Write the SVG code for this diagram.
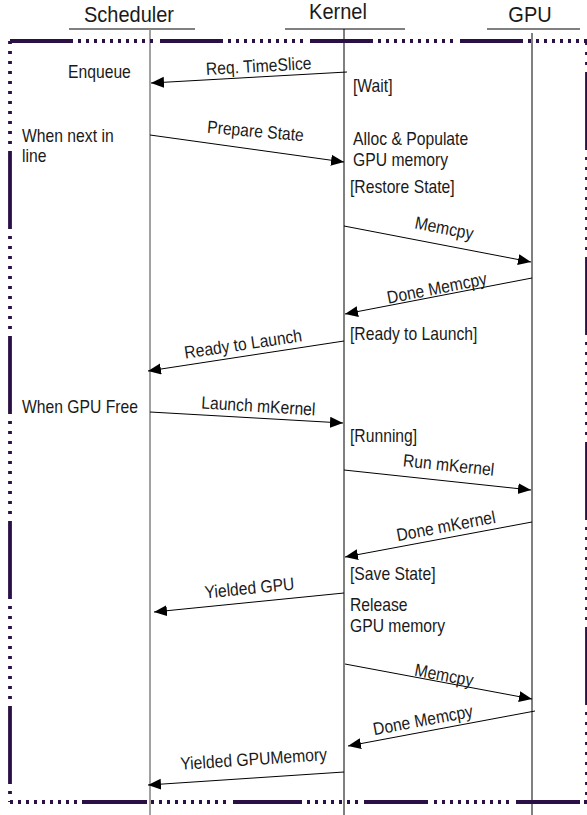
<svg xmlns="http://www.w3.org/2000/svg" width="587" height="815" viewBox="0 0 587 815">
  <style>
    .hdr { font-family: "Liberation Sans", Arial, sans-serif; font-size: 20px; fill: #1a1a1a; text-anchor: middle; }
    .txt { font-family: "Liberation Sans", Arial, sans-serif; font-size: 15.7px; fill: #1a1a1a; }
    .lbl { font-family: "Liberation Sans", Arial, sans-serif; font-size: 15.7px; fill: #1a1a1a; text-anchor: middle; }
    .uline { stroke: #808080; stroke-width: 2; fill: none; }
    .life { stroke: #000; stroke-width: 1; fill: none; }
    .msg { stroke: #000; stroke-width: 1; fill: none; marker-end: url(#head); }
    .frame { stroke: #2b1045; fill: none; stroke-width: 3.8; }
  </style>
  <defs>
    <marker id="head" markerUnits="userSpaceOnUse" markerWidth="14" markerHeight="12" refX="13" refY="5.5" orient="auto">
      <path d="M0,0 L13,5.5 L0,11 z" fill="#000"/>
    </marker>
  </defs>

  <rect width="587" height="815" fill="#fff"/>

  <!-- lifelines with their headers -->
  <g id="scheduler">
    <g transform="translate(129,22) scale(1,1.13)"><text class="hdr">Scheduler</text></g>
    <line class="uline" x1="69" y1="29" x2="195" y2="29"/>
    <line x1="150" y1="29" x2="150" y2="815" stroke="#8a8a8a" stroke-width="1.6"/>
  </g>
  <g id="kernel">
    <g transform="translate(338,18.5) scale(1,1.12)"><text class="hdr">Kernel</text></g>
    <line class="uline" x1="285" y1="29" x2="405" y2="29"/>
    <line class="life" x1="344" y1="29" x2="344" y2="815"/>
  </g>
  <g id="gpu">
    <g transform="translate(530,22) scale(1,1.13)"><text class="hdr">GPU</text></g>
    <line class="uline" x1="487" y1="29" x2="580" y2="29"/>
    <line class="life" x1="532" y1="33" x2="532" y2="815"/>
  </g>

  <!-- dash-dot frame -->
  <g id="frame">
    <path class="frame" d="M10,41 H587" stroke-dasharray="63 5 3 5 3 5 3 5 3 5 3 5 3 5 3 5 3 5 3 5 3 7"/>
    <path class="frame" d="M10,41 V802" stroke-dasharray="78 7 3 7 3 7 3 7 3 7 3 7 3 7 3 7 3 7 3 7 3 7" stroke-dashoffset="75" stroke-width="3.4"/>
    <path class="frame" d="M587,41 V802" stroke-dasharray="78 7 3 7 3 7 3 7 3 7 3 7 3 7 3 7 3 7 3 7 3 7" stroke-dashoffset="154" stroke-width="3.4"/>
    <path class="frame" d="M10,802 H587" stroke-dasharray="3 5 3 5 3 5 3 5 3 5 3 5 3 5 3 5 3 5 65 4 3 5 3 5 3 5 3 5 3 5 3 5 3 5 3 5 3 5 3 7 69 5 3 5 3 5 3 5 3 5 3 5 3 5 3 6 64 6 3 5 3 5 3 5 3 5 3 5 3 5 3 5 3 5 3 5 3 7 64 4 3 10"/>
  </g>

  <!-- state notes -->
  <g id="notes">
    <g transform="translate(0,78) scale(1,1.13)"><text class="txt" x="68" y="0">Enqueue</text></g>
    <g transform="translate(0,92) scale(1,1.13)"><text class="txt" x="353" y="0">[Wait]</text></g>
    <g transform="translate(0,142) scale(1,1.13)"><text class="txt" x="22" y="0">When next in</text></g>
    <g transform="translate(0,162) scale(1,1.13)"><text class="txt" x="22" y="0">line</text></g>
    <g transform="translate(0,145) scale(1,1.13)"><text class="txt" x="353" y="0">Alloc &amp; Populate</text></g>
    <g transform="translate(0,166) scale(1,1.13)"><text class="txt" x="353" y="0">GPU memory</text></g>
    <g transform="translate(0,193) scale(1,1.13)"><text class="txt" x="350" y="0">[Restore State]</text></g>
    <g transform="translate(0,340) scale(1,1.13)"><text class="txt" x="350" y="0">[Ready to Launch]</text></g>
    <g transform="translate(0,413) scale(1,1.13)"><text class="txt" x="22" y="0">When GPU Free</text></g>
    <g transform="translate(0,442) scale(1,1.13)"><text class="txt" x="350" y="0">[Running]</text></g>
    <g transform="translate(0,580) scale(1,1.13)"><text class="txt" x="350" y="0">[Save State]</text></g>
    <g transform="translate(0,611) scale(1,1.13)"><text class="txt" x="350" y="0">Release</text></g>
    <g transform="translate(0,632) scale(1,1.13)"><text class="txt" x="350" y="0">GPU memory</text></g>
  </g>

  <!-- messages -->
  <g id="connectors">
    <line class="msg" x1="347" y1="72" x2="151" y2="83"/>
    <line class="msg" x1="150" y1="135" x2="344" y2="162"/>
    <line class="msg" x1="344" y1="226" x2="531" y2="262"/>
    <line class="msg" x1="532" y1="278" x2="345" y2="314"/>
    <line class="msg" x1="344" y1="341" x2="148" y2="371"/>
    <line class="msg" x1="150" y1="412" x2="343" y2="423"/>
    <line class="msg" x1="344" y1="470" x2="531" y2="490"/>
    <line class="msg" x1="532" y1="522" x2="345" y2="557"/>
    <line class="msg" x1="344" y1="593" x2="154" y2="612"/>
    <line class="msg" x1="345" y1="664" x2="532" y2="699"/>
    <line class="msg" x1="535" y1="711" x2="348" y2="746"/>
    <line class="msg" x1="344" y1="772" x2="148" y2="785"/>
  </g>

  <!-- message labels -->
  <g id="labels">
    <g transform="translate(259,72) rotate(-3.2) scale(1,1.13)"><text class="lbl">Req. TimeSlice</text></g>
    <g transform="translate(255,137) rotate(5) scale(1,1.13)"><text class="lbl">Prepare State</text></g>
    <g transform="translate(443,234) rotate(11) scale(1,1.13)"><text class="lbl">Memcpy</text></g>
    <g transform="translate(438,294) rotate(-11) scale(1,1.13)"><text class="lbl">Done Memcpy</text></g>
    <g transform="translate(244,350) rotate(-8.5) scale(1,1.13)"><text class="lbl">Ready to Launch</text></g>
    <g transform="translate(258,412) rotate(3.5) scale(1,1.13)"><text class="lbl">Launch mKernel</text></g>
    <g transform="translate(448,471) rotate(6) scale(1,1.13)"><text class="lbl">Run mKernel</text></g>
    <g transform="translate(447,532) rotate(-10.6) scale(1,1.13)"><text class="lbl">Done mKernel</text></g>
    <g transform="translate(250,594) rotate(-5.7) scale(1,1.13)"><text class="lbl">Yielded GPU</text></g>
    <g transform="translate(443,681) rotate(10.6) scale(1,1.13)"><text class="lbl">Memcpy</text></g>
    <g transform="translate(424,726) rotate(-10.6) scale(1,1.13)"><text class="lbl">Done Memcpy</text></g>
    <g transform="translate(254,765) rotate(-3.8) scale(1,1.13)"><text class="lbl">Yielded GPUMemory</text></g>
  </g>
</svg>
